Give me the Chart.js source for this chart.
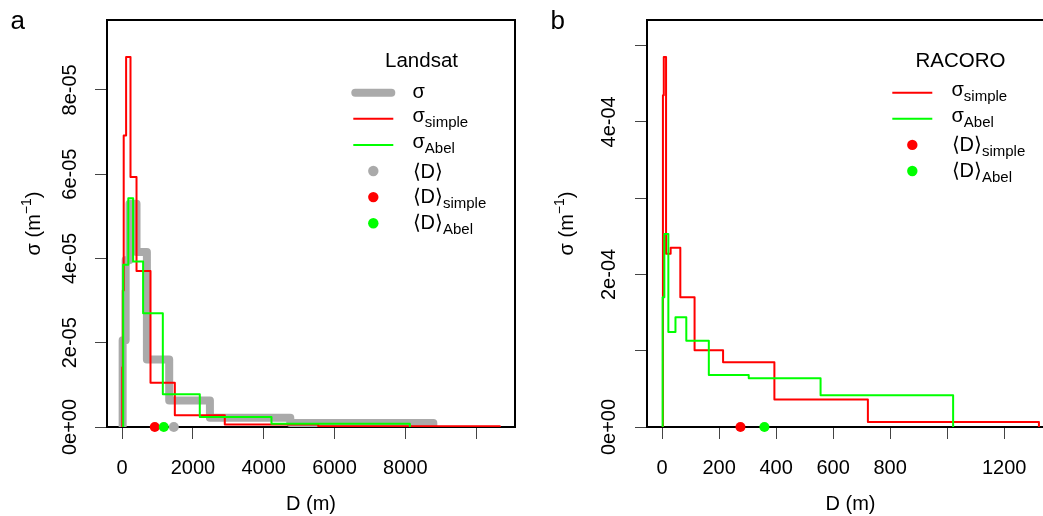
<!DOCTYPE html>
<html>
<head>
<meta charset="utf-8">
<script src="https://cdn.jsdelivr.net/npm/chart.js@4.4.0/dist/chart.umd.min.js"></script>
<style>
  html, body { margin: 0; padding: 0; background: #fff; overflow: hidden; }
  body { width: 1043px; height: 516px; position: relative; }
  canvas { position: absolute; top: 0; }
  #chartA { left: 0; }
  #chartB { left: 520px; }
</style>
</head>
<body>
<canvas id="chartA" width="520" height="516"></canvas>
<canvas id="chartB" width="540" height="516"></canvas>
<script>
// panel a : Landsat  (bin edges in m, sigma in 1/m)
const landsatSigmaEdges = [15, 100, 210, 407, 700, 1330, 2480, 4750, 8790];
const landsatSigmaValues = [2.06e-5, 3.96e-5, 5.3e-5, 4.15e-5, 1.6e-5, 0.63e-5, 0.22e-5, 0.095e-5];
const landsatSimpleEdges = [5, 20, 45, 113, 237, 407, 802, 1489, 2900, 5540, 10670];
const landsatSimpleValues = [1.42e-5, 3.24e-5, 6.92e-5, 8.78e-5, 5.93e-5, 3.7e-5, 1.05e-5, 0.28e-5, 0.06e-5, 0.02e-5];
const landsatAbelEdges = [30, 175, 311, 593, 1150, 2194, 4219, 8127];
const landsatAbelValues = [3.85e-5, 5.43e-5, 3.93e-5, 2.7e-5, 0.78e-5, 0.24e-5, 0.08e-5];
const landsatMeans = [1460, 923, 1177];   // <D>, <D>simple, <D>Abel

const landsatXTicks = [0, 2000, 4000, 6000, 8000, 10000];
const landsatXLabels = ['0', '2000', '4000', '6000', '8000', ''];
const landsatYTicks = [0, 2e-5, 4e-5, 6e-5, 8e-5];
const landsatYLabels = ['0e+00', '2e-05', '4e-05', '6e-05', '8e-05'];

// panel b : RACORO
const racoroSimpleEdges = [3, 6, 14, 30, 64, 114, 214, 394, 722, 1322];
const racoroSimpleValues = [4.35e-4, 4.85e-4, 2.27e-4, 2.35e-4, 1.70e-4, 1.005e-4, 0.85e-4, 0.36e-4, 0.066e-4];
const racoroAbelEdges = [2, 8, 22, 47, 85, 164, 304, 556, 1021];
const racoroAbelValues = [1.70e-4, 2.53e-4, 1.245e-4, 1.44e-4, 1.13e-4, 0.68e-4, 0.64e-4, 0.415e-4];
const racoroMeans = [275, 359];   // <D>simple, <D>Abel

const racoroXTicks = [0, 200, 400, 600, 800, 1000, 1200];
const racoroXLabels = ['0', '200', '400', '600', '800', '', '1200'];
const racoroYTicks = [0, 1e-4, 2e-4, 3e-4, 4e-4, 5e-4];
const racoroYLabels = ['0e+00', '', '2e-04', '', '4e-04', ''];

const GRAY = '#aaaaaa', RED = '#ff0000', GREEN = '#00ff00';
const FONT = '"Liberation Sans", Arial, Helvetica, sans-serif';

Chart.defaults.font.family = FONT;
Chart.defaults.color = '#000';

// histogram outline: up from 0 at first edge, steps, back to 0 at last edge
const stepPoints = function (edges, values) {
	let pts = [{ x: edges[0], y: 0 }]
	values.forEach((v, i) => {
		pts.push({ x: edges[i], y: v })
	});
	pts.push({ x: edges[edges.length - 1], y: 0 })
	return pts
}

const stepLine = function (edges, values, color, width, order) {
	return {
		data: stepPoints(edges, values),
		borderColor: color,
		borderWidth: width,
		stepped: 'before',
		pointRadius: 0,
		fill: false,
		borderCapStyle: 'round',
		borderJoinStyle: 'round',
		clip: 0,
		order: order
	}
}

const drawLabel = function (ctx, x, y, main, sub, size) {
	ctx.textAlign = 'left';
	ctx.textBaseline = 'alphabetic';
	ctx.font = size + 'px ' + FONT;
	ctx.fillText(main, x, y);
	if (sub) {
		const w = ctx.measureText(main).width;
		ctx.font = Math.round(size * 0.75) + 'px ' + FONT;
		ctx.fillText(sub, x + w, y + 5);
	}
}

const panelPlugin = {
	id: 'panel',
	beforeDatasetsDraw(chart) {
		const { ctx, chartArea: a } = chart;
		ctx.save();
		ctx.lineWidth = 2;
		ctx.strokeStyle = '#000';
		ctx.strokeRect(a.left, a.top, a.right - a.left, a.bottom - a.top);
		ctx.restore();
	},
	afterDraw(chart, args, o) {
		const { ctx, chartArea: a } = chart;
		const yScale = chart.scales.y;
		ctx.save();
		ctx.fillStyle = '#000';

		// rotated y tick labels
		ctx.font = '20px ' + FONT;
		ctx.textAlign = 'center';
		ctx.textBaseline = 'middle';
		o.yTicks.forEach((v, i) => {
			if (!o.yLabels[i]) return;
			ctx.save();
			ctx.translate(a.left - o.tickGap, yScale.getPixelForValue(v));
			ctx.rotate(-Math.PI / 2);
			ctx.fillText(o.yLabels[i], 0, 0);
			ctx.restore();
		});

		// y title  sigma (m^-1)
		ctx.save();
		ctx.translate(a.left - o.titleGap, (a.top + a.bottom) / 2);
		ctx.rotate(-Math.PI / 2);
		ctx.textBaseline = 'alphabetic';
		ctx.textAlign = 'left';
		ctx.font = '20px ' + FONT;
		const w1 = ctx.measureText('\u03c3 (m').width;
		const w3 = ctx.measureText(')').width;
		ctx.font = '14px ' + FONT;
		const w2 = ctx.measureText('\u22121').width;
		let x0 = -(w1 + w2 + w3) / 2;
		ctx.font = '20px ' + FONT;
		ctx.fillText('\u03c3 (m', x0, 0);
		ctx.font = '14px ' + FONT;
		ctx.fillText('\u22121', x0 + w1, -9);
		ctx.font = '20px ' + FONT;
		ctx.fillText(')', x0 + w1 + w2, 0);
		ctx.restore();

		// panel letter
		ctx.font = '26px ' + FONT;
		ctx.textAlign = 'left';
		ctx.textBaseline = 'alphabetic';
		ctx.fillText(o.letter, a.left - 96.5, 29);

		// legend
		const lg = o.legend;
		ctx.font = '20.5px ' + FONT;
		ctx.textAlign = 'center';
		ctx.fillText(lg.title, a.right - 93.5, a.top + 47);
		lg.items.forEach((it, i) => {
			const y = a.top + 72.7 + i * 26.1;
			const cx = a.right - 141.7;
			if (it.kind === 'line') {
				ctx.beginPath();
				ctx.strokeStyle = it.color;
				ctx.lineWidth = it.width;
				ctx.lineCap = it.width > 4 ? 'round' : 'butt';
				const half = it.width > 4 ? 18 : 20;
				ctx.moveTo(cx - half, y);
				ctx.lineTo(cx + half, y);
				ctx.stroke();
			} else {
				ctx.beginPath();
				ctx.fillStyle = it.color;
				ctx.arc(cx, y, 5.2, 0, 2 * Math.PI);
				ctx.fill();
			}
			ctx.fillStyle = '#000';
			const off = it.main === '\u03c3' ? (it.sub ? 3 : 5.5) : (it.sub ? 6 : 6.5);
			drawLabel(ctx, a.right - 102.5, y + off, it.main, it.sub, 20);
		});
		ctx.restore();
	}
};

const makePanel = function (canvasId, p) {
	const xMaxData = Math.max(...p.edgeMax);
	const yMaxData = Math.max(...p.valueMax);
	const config = {
		type: 'line',
		data: { datasets: p.datasets },
		options: {
			animation: false,
			responsive: false,
			devicePixelRatio: 1,
			events: [],
			layout: { padding: { left: 0, top: 20, right: p.padRight, bottom: 0 } },
			plugins: {
				legend: { display: false },
				tooltip: { enabled: false },
				panel: p.panel
			},
			scales: {
				x: {
					type: 'linear',
					min: -0.04 * xMaxData,
					max: 1.04 * xMaxData,
					afterBuildTicks: s => { s.ticks = p.xTicks.map(v => ({ value: v })); },
					afterFit: s => { s.height = 89; },
					border: { display: false },
					grid: { drawOnChartArea: false, drawTicks: true, tickLength: 12, tickColor: '#444', lineWidth: 1 },
					ticks: {
						autoSkip: false, maxRotation: 0, minRotation: 0, padding: 17,
						color: '#000', font: { size: 20 },
						callback: (v, i) => p.xLabels[i]
					},
					title: { display: true, text: 'D (m)', color: '#000', font: { size: 20 }, padding: { top: 0, bottom: 0 } }
				},
				y: {
					type: 'linear',
					min: 0,
					max: 1.1 * yMaxData,
					afterBuildTicks: s => { s.ticks = p.panel.yTicks.map(v => ({ value: v })); },
					afterFit: s => { s.width = p.yWidth; },
					border: { display: false },
					grid: { drawOnChartArea: false, drawTicks: true, tickLength: 12, tickColor: '#444', lineWidth: 1 },
					ticks: { display: false }
				}
			}
		},
		plugins: [panelPlugin]
	};
	return new Chart(document.getElementById(canvasId), config);
}

const dots = function (means, colors) {
	return {
		data: means.map(m => ({ x: m, y: 0 })),
		showLine: false,
		pointRadius: 5,
		pointBorderWidth: 0,
		pointBackgroundColor: colors,
		pointBorderColor: colors,
		clip: false,
		order: 0
	}
}

const landsatChart = makePanel('chartA', {
	edgeMax: [landsatSimpleEdges[landsatSimpleEdges.length - 1]],
	valueMax: landsatSimpleValues,
	padRight: 5,
	yWidth: 107,
	xTicks: landsatXTicks,
	xLabels: landsatXLabels,
	datasets: [
		stepLine(landsatSigmaEdges, landsatSigmaValues, GRAY, 8, 4),
		stepLine(landsatSimpleEdges, landsatSimpleValues, RED, 2, 3),
		stepLine(landsatAbelEdges, landsatAbelValues, GREEN, 2, 2),
		dots(landsatMeans, [GRAY, RED, GREEN])
	],
	panel: {
		letter: 'a', tickGap: 37, titleGap: 67,
		yTicks: landsatYTicks, yLabels: landsatYLabels,
		legend: {
			title: 'Landsat',
			items: [
				{ kind: 'line', color: GRAY, width: 8, main: '\u03c3', sub: '' },
				{ kind: 'line', color: RED, width: 2, main: '\u03c3', sub: 'simple' },
				{ kind: 'line', color: GREEN, width: 2, main: '\u03c3', sub: 'Abel' },
				{ kind: 'dot', color: GRAY, main: '\u27e8D\u27e9', sub: '' },
				{ kind: 'dot', color: RED, main: '\u27e8D\u27e9', sub: 'simple' },
				{ kind: 'dot', color: GREEN, main: '\u27e8D\u27e9', sub: 'Abel' }
			]
		}
	}
});

const racoroChart = makePanel('chartB', {
	edgeMax: [racoroSimpleEdges[racoroSimpleEdges.length - 1]],
	valueMax: racoroSimpleValues,
	padRight: 6,
	yWidth: 127,
	xTicks: racoroXTicks,
	xLabels: racoroXLabels,
	datasets: [
		stepLine(racoroSimpleEdges, racoroSimpleValues, RED, 2, 3),
		stepLine(racoroAbelEdges, racoroAbelValues, GREEN, 2, 2),
		dots(racoroMeans, [RED, GREEN])
	],
	panel: {
		letter: 'b', tickGap: 38, titleGap: 74,
		yTicks: racoroYTicks, yLabels: racoroYLabels,
		legend: {
			title: 'RACORO',
			items: [
				{ kind: 'line', color: RED, width: 2, main: '\u03c3', sub: 'simple' },
				{ kind: 'line', color: GREEN, width: 2, main: '\u03c3', sub: 'Abel' },
				{ kind: 'dot', color: RED, main: '\u27e8D\u27e9', sub: 'simple' },
				{ kind: 'dot', color: GREEN, main: '\u27e8D\u27e9', sub: 'Abel' }
			]
		}
	}
});
</script>
</body>
</html>
